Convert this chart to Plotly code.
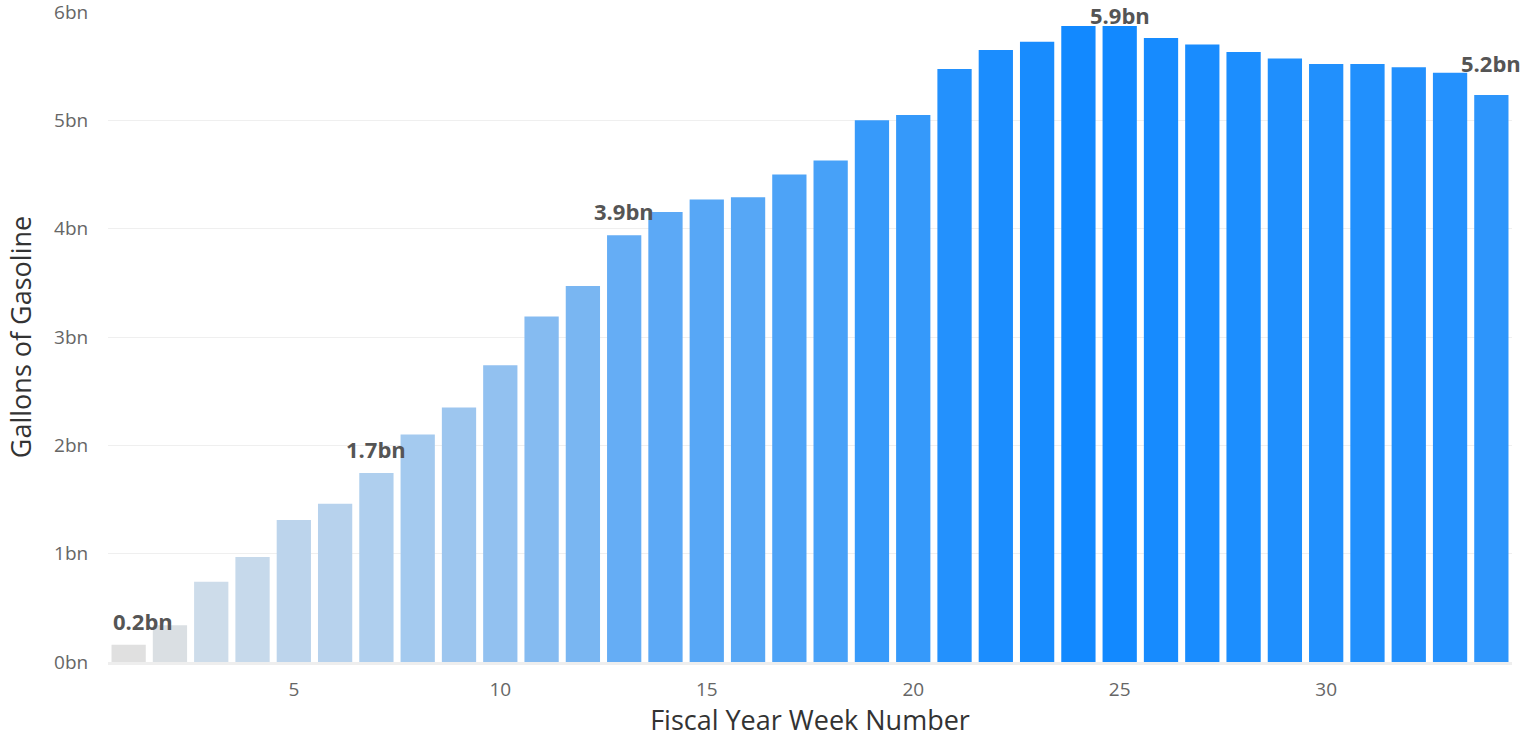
import plotly.graph_objects as go

weeks = list(range(1, 35))
gallons_bn = [0.16, 0.34, 0.74, 0.97, 1.31, 1.46, 1.745, 2.10, 2.35, 2.74,
              3.19, 3.47, 3.94, 4.155, 4.27, 4.29, 4.50, 4.63, 5.00, 5.05,
              5.475, 5.65, 5.725, 5.87, 5.87, 5.76, 5.70, 5.63, 5.57, 5.52,
              5.52, 5.49, 5.44, 5.235]
labelled_weeks = [1, 7, 13, 25, 34]
y_ticks = [0, 1, 2, 3, 4, 5, 6]
y_tick_labels = ["0bn", "1bn", "2bn", "3bn", "4bn", "5bn", "6bn"]
x_ticks = [5, 10, 15, 20, 25, 30]

colorscale = [[0.0, "#e0e0e0"], [0.1, "#cddcea"], [0.3, "#abcdee"],
              [0.53, "#85bbf1"], [0.78, "#48a1f8"], [1.0, "#1289ff"]]

W, H = 1533, 738
m_l, m_r, m_t, m_b = 108, 21, 12, 76
ymax = 6
plot_h = H - m_t - m_b

fig = go.Figure(go.Bar(
    x=weeks, y=gallons_bn,
    marker=dict(color=gallons_bn, colorscale=colorscale,
                cmin=min(gallons_bn), cmax=max(gallons_bn), line=dict(width=0)),
    hovertemplate="Week %{x}: %{y:.2f}bn<extra></extra>",
))


def page_y(val):
    return m_t + (ymax - val) / ymax * plot_h


annotations = []
for wk in labelled_weeks:
    v = gallons_bn[wk - 1]
    bar_top = page_y(v)
    if wk == weeks[-1]:
        # last label sits just clear of the neighbouring (taller) bar
        glyph_bottom = page_y(gallons_bn[wk - 2]) - 1
    else:
        glyph_bottom = max(bar_top - 15, 24)
    shift = bar_top - (glyph_bottom + 8)
    ann = dict(x=wk, y=v, xref="x", yref="y", text=f"{v:.1f}bn", showarrow=False,
               yanchor="bottom", yshift=shift,
               font=dict(family="Open Sans", size=22, color="#555555", weight="bold"))
    if wk == weeks[0]:
        ann["x"] = wk - 0.42
        ann["xanchor"] = "left"
    annotations.append(ann)

fig.update_layout(
    width=W, height=H,
    margin=dict(l=m_l, r=m_r, t=m_t, b=m_b, autoexpand=False),
    paper_bgcolor="white", plot_bgcolor="white",
    bargap=0.17,
    showlegend=False,
    font=dict(family="Open Sans", color="#666666", size=19),
    annotations=annotations,
    xaxis=dict(range=[0.5, 34.5], tickmode="array", tickvals=x_ticks, showgrid=False,
               zeroline=False, automargin=False,
               showline=True, linecolor="#eeeeee", linewidth=3,
               tickfont=dict(size=19, color="#666666"), ticks="outside", ticklen=8,
               tickcolor="rgba(0,0,0,0)",
               title=dict(text="Fiscal Year Week Number", font=dict(size=27, color="#333333"),
                          standoff=12)),
    yaxis=dict(range=[0, ymax], tickmode="array", tickvals=y_ticks, ticktext=y_tick_labels,
               showgrid=True, gridcolor="#efefef", gridwidth=1, zeroline=False,
               automargin=False, ticklabeloverflow="allow",
               tickfont=dict(size=19, color="#666666"), ticks="outside", ticklen=15,
               tickcolor="rgba(0,0,0,0)",
               title=dict(text="Gallons of Gasoline", font=dict(size=27, color="#333333"),
                          standoff=14)),
)

fig.write_html("out.html", config={"displayModeBar": False},
               post_script="document.body.style.margin='0';")
